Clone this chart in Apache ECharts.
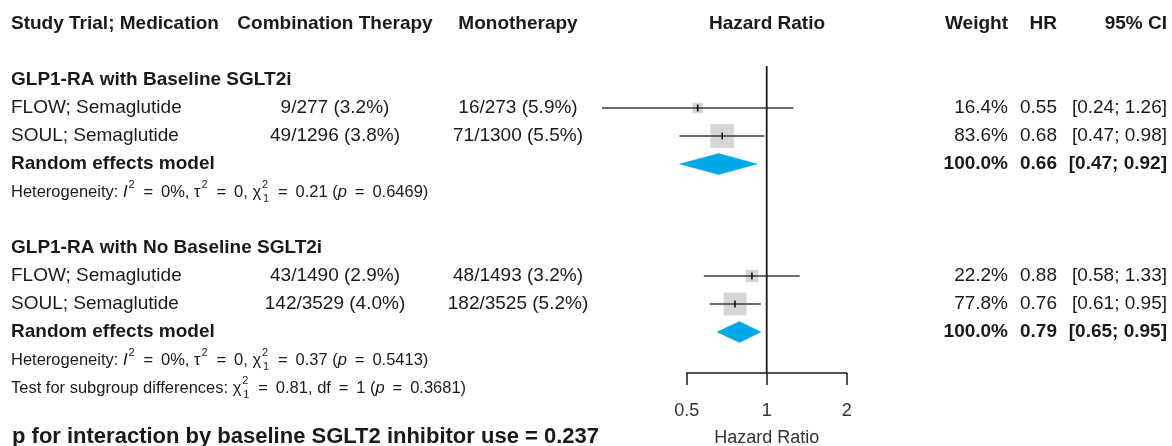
<!DOCTYPE html>
<html><head><meta charset="utf-8">
<script src="https://cdn.jsdelivr.net/npm/echarts@6/dist/echarts.min.js"></script>
<style>html,body{margin:0;padding:0;background:#fff}#c{width:1172px;height:446px}</style>
</head><body><div id="c"></div>
<script>
// ---------------- data ----------------
const headers = ['Study Trial; Medication', 'Combination Therapy', 'Monotherapy', 'Hazard Ratio', 'Weight', 'HR', '95% CI'];
const groupTitles = ['GLP1-RA with Baseline SGLT2i', 'GLP1-RA with No Baseline SGLT2i'];
const studyNames = ['FLOW; Semaglutide', 'SOUL; Semaglutide', 'FLOW; Semaglutide', 'SOUL; Semaglutide'];
const studyGroup = [0, 0, 1, 1];
const comboEvents = ['9/277 (3.2%)', '49/1296 (3.8%)', '43/1490 (2.9%)', '142/3529 (4.0%)'];
const monoEvents = ['16/273 (5.9%)', '71/1300 (5.5%)', '48/1493 (3.2%)', '182/3525 (5.2%)'];
const studyWeight = [16.4, 83.6, 22.2, 77.8];
const studyHR = [0.55, 0.68, 0.88, 0.76];
const studyLow = [0.24, 0.47, 0.58, 0.61];
const studyHigh = [1.26, 0.98, 1.33, 0.95];
const pooledLabel = 'Random effects model';
const pooledWeight = [100.0, 100.0];
const pooledHR = [0.66, 0.79];
const pooledLow = [0.47, 0.65];
const pooledHigh = [0.92, 0.95];
const hetI2 = ['0%', '0%'];
const hetTau2 = ['0', '0'];
const hetChi2 = ['0.21', '0.37'];
const hetP = ['0.6469', '0.5413'];
const subgroupChi2 = '0.81';
const subgroupDf = '1';
const subgroupP = '0.3681';
const interactionP = '0.237';
const xTicks = [0.5, 1, 2];
const xAxisName = 'Hazard Ratio';

// ---------------- layout / style ----------------
const FONT = '"Liberation Sans", Arial, Helvetica, sans-serif';
const ROW0 = 24, ROWH = 28, NROWS = 14;
const COL = { study: 11, combo: 335, mono: 518, plot: 767, weight: 1008, hr: 1057, ci: 1167 };
const PLOT = { left: 686.7, right: 846.7, top: 66, bottom: 373 };
const TXT = '#1a1a1a';
const EQ = ' \u2009=\u2009 '; // plotmath-like spacing around "="

function titleRow(g) { return 2 + 6 * g; }
function studyRow(i) { const g = studyGroup[i]; const k = studyGroup.slice(0, i).filter(x => x === g).length; return 3 + 6 * g + k; }
function pooledRow(g) { return 5 + 6 * g; }
function hetRow(g) { return 6 + 6 * g; }

const HS = 16.5; // small text size
function rs(extra) { return Object.assign({ fontSize: HS, fontFamily: FONT, fill: TXT }, extra || {}); }
const richSmall = {
  it: rs({ fontStyle: 'italic' }),
  sup: rs({ fontSize: 11, lineHeight: 11, verticalAlign: 'top', padding: [0, 1, 0, 1] }),
  supz: rs({ fontSize: 11, lineHeight: 11, verticalAlign: 'top', width: 0, padding: [0, 0, 0, 1] }),
  sub: rs({ fontSize: 11, lineHeight: 11, verticalAlign: 'bottom', padding: [0, 1, 0, 1] })
};

const T = [];
function add(x, row, text, align, bold, size, rich) {
  T.push({ x, row, text, align, bold, size: size || 19, rich });
}
const hdrX = [COL.study, COL.combo, COL.mono, COL.plot, COL.weight, COL.hr, COL.ci];
const hdrA = ['left', 'center', 'center', 'center', 'right', 'right', 'right'];
headers.forEach((h, i) => add(hdrX[i], 0, h, hdrA[i], true));
const fmtCI = (lo, hi) => '[' + lo.toFixed(2) + '; ' + hi.toFixed(2) + ']';
groupTitles.forEach((gt, g) => {
  add(COL.study, titleRow(g), gt, 'left', true);
  add(COL.study, pooledRow(g), pooledLabel, 'left', true);
  add(COL.weight, pooledRow(g), pooledWeight[g].toFixed(1) + '%', 'right', true);
  add(COL.hr, pooledRow(g), pooledHR[g].toFixed(2), 'right', true);
  add(COL.ci, pooledRow(g), fmtCI(pooledLow[g], pooledHigh[g]), 'right', true);
  add(COL.study, hetRow(g),
    'Heterogeneity: {it|I}{sup|2}' + EQ + hetI2[g] + ', τ{sup|2}' + EQ + hetTau2[g] +
    ', χ{supz|2}{sub|1}' + EQ + hetChi2[g] + ' ({it|p}' + EQ + hetP[g] + ')',
    'left', false, HS, richSmall);
});
studyNames.forEach((s, i) => {
  const r = studyRow(i);
  add(COL.study, r, s, 'left', false);
  add(COL.combo, r, comboEvents[i], 'center', false);
  add(COL.mono, r, monoEvents[i], 'center', false);
  add(COL.weight, r, studyWeight[i].toFixed(1) + '%', 'right', false);
  add(COL.hr, r, studyHR[i].toFixed(2), 'right', false);
  add(COL.ci, r, fmtCI(studyLow[i], studyHigh[i]), 'right', false);
});
add(COL.study, 13, 'Test for subgroup differences: χ{supz|2}{sub|1}' + EQ + subgroupChi2 +
  ', df' + EQ + subgroupDf + ' ({it|p}' + EQ + subgroupP + ')', 'left', false, HS, richSmall);
add(12, 14.73, 'p for interaction by baseline SGLT2 inhibitor use = ' + interactionP, 'left', true, 22);

const chart = echarts.init(document.getElementById('c'), null, { renderer: 'canvas' });
const yMin = (PLOT.top - ROW0) / ROWH, yMax = (PLOT.bottom - ROW0) / ROWH;

const option = {
  animation: false,
  backgroundColor: '#ffffff',
  grid: [
    { left: 0, top: ROW0, width: 1172, height: ROWH * NROWS, outerBoundsMode: 'none', containLabel: false },
    { left: PLOT.left, top: PLOT.top, width: PLOT.right - PLOT.left, height: PLOT.bottom - PLOT.top, outerBoundsMode: 'none', containLabel: false }
  ],
  xAxis: [
    { gridIndex: 0, type: 'value', min: 0, max: 1172, show: false },
    {
      gridIndex: 1, type: 'log', logBase: 2, min: xTicks[0], max: xTicks[xTicks.length - 1],
      axisLine: { show: true, lineStyle: { color: '#1a1a1a', width: 1.5 } },
      axisTick: { show: true, inside: false, length: 12, lineStyle: { color: '#1a1a1a', width: 1.5 } },
      splitLine: { show: false }, minorTick: { show: false },
      axisLabel: { show: true, margin: 29, fontSize: 18, fontFamily: FONT, color: '#333',
        formatter: v => String(Math.round(v * 100) / 100) },
      name: xAxisName, nameLocation: 'middle', nameGap: 56,
      nameTextStyle: { fontSize: 18, fontFamily: FONT, color: '#333' }
    }
  ],
  yAxis: [
    { gridIndex: 0, type: 'value', min: 0, max: NROWS, inverse: true, show: false },
    { gridIndex: 1, type: 'value', min: yMin, max: yMax, inverse: true, show: false }
  ],
  series: [
    {
      type: 'custom', xAxisIndex: 0, yAxisIndex: 0, silent: true, clip: false,
      data: T.map(t => [t.x, t.row]),
      renderItem(params, api) {
        const t = T[params.dataIndex];
        const p = api.coord([api.value(0), api.value(1)]);
        const style = {
          text: t.text, x: 0, y: 0, align: t.align, verticalAlign: 'middle',
          fontSize: t.size, fontFamily: FONT, fontWeight: t.bold ? 'bold' : 'normal', fill: TXT
        };
        if (t.rich) { style.rich = t.rich; style.lineHeight = 25; }
        return { type: 'text', x: p[0], y: p[1], style };
      }
    },
    {
      type: 'line', xAxisIndex: 1, yAxisIndex: 1, silent: true, symbol: 'none',
      data: [[1, yMin], [1, yMax]],
      lineStyle: { color: '#1a1a1a', width: 1.8 }
    },
    {
      type: 'custom', xAxisIndex: 1, yAxisIndex: 1, silent: true, clip: false,
      encode: { x: 0, y: 1 },
      data: studyHR.map((h, i) => [h, studyRow(i), studyLow[i], studyHigh[i], studyWeight[i]]),
      renderItem(params, api) {
        const y = api.value(1);
        const p = api.coord([api.value(0), y]);
        const lo = api.coord([api.value(2), y]);
        const hi = api.coord([api.value(3), y]);
        const s = 2.6 * Math.sqrt(api.value(4));
        return {
          type: 'group', children: [
            { type: 'rect', shape: { x: p[0] - s / 2, y: p[1] - s / 2, width: s, height: s }, style: { fill: '#d6d6d6' } },
            { type: 'line', shape: { x1: lo[0], y1: lo[1], x2: hi[0], y2: hi[1] }, style: { stroke: '#3a3a3a', lineWidth: 1.4 } },
            { type: 'line', shape: { x1: p[0], y1: p[1] - 3.5, x2: p[0], y2: p[1] + 3.5 }, style: { stroke: '#111', lineWidth: 1.6 } }
          ]
        };
      }
    },
    {
      type: 'custom', xAxisIndex: 1, yAxisIndex: 1, silent: true, clip: false,
      encode: { x: 0, y: 1 },
      data: pooledHR.map((h, g) => [h, pooledRow(g), pooledLow[g], pooledHigh[g]]),
      renderItem(params, api) {
        const y = api.value(1);
        const p = api.coord([api.value(0), y]);
        const lo = api.coord([api.value(2), y]);
        const hi = api.coord([api.value(3), y]);
        const h = 10.5;
        return {
          type: 'polygon',
          shape: { points: [[lo[0], p[1]], [p[0], p[1] - h], [hi[0], p[1]], [p[0], p[1] + h]] },
          style: { fill: '#00a9e6', stroke: '#00a9e6', lineWidth: 0.5 }
        };
      }
    }
  ]
};
chart.setOption(option);
</script>
</body></html>
